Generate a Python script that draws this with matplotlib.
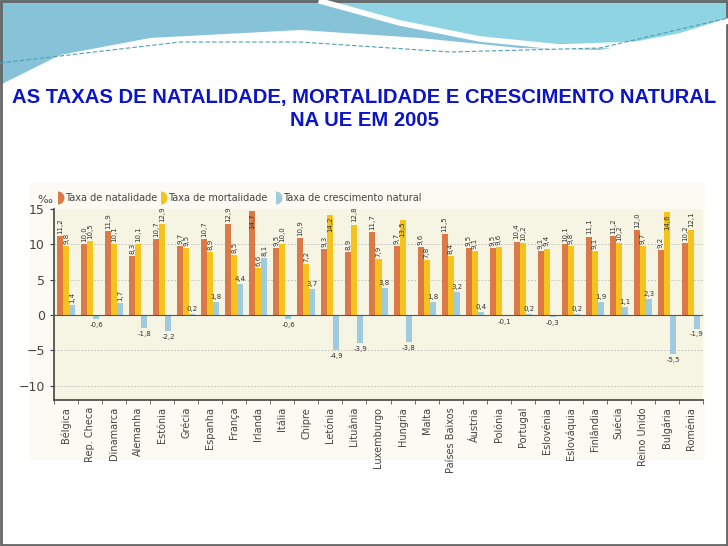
#!/usr/bin/env python
"""Birth, death and natural growth rates in the EU, 2005."""

import matplotlib.pyplot as plt
from matplotlib.patches import Wedge, Rectangle
import numpy as np

countries = ["Bélgica", "Rep. Checa", "Dinamarca", "Alemanha", "Estónia", "Grécia",
             "Espanha", "França", "Irlanda", "Itália", "Chipre", "Letónia", "Lituânia",
             "Luxemburgo", "Hungria", "Malta", "Países Baixos", "Áustria", "Polónia",
             "Portugal", "Eslovénia", "Eslováquia", "Finlândia", "Suécia", "Reino Unido",
             "Bulgária", "Roménia"]
natalidade = [11.2, 10.0, 11.9, 8.3, 10.7, 9.7, 10.7, 12.9, 14.7, 9.5, 10.9, 9.3, 8.9,
              11.7, 9.7, 9.6, 11.5, 9.5, 9.5, 10.4, 9.1, 10.1, 11.1, 11.2, 12.0, 9.2, 10.2]
mortalidade = [9.8, 10.5, 10.1, 10.1, 12.9, 9.5, 8.9, 8.5, 6.6, 10.0, 7.2, 14.2, 12.8,
               7.9, 13.5, 7.8, 8.4, 9.1, 9.6, 10.2, 9.4, 9.8, 9.1, 10.2, 9.7, 14.6, 12.1]
crescimento = [1.4, -0.6, 1.7, -1.8, -2.2, 0.2, 1.8, 4.4, 8.1, -0.6, 3.7, -4.9, -3.9,
               3.8, -3.8, 1.8, 3.2, 0.4, -0.1, 0.2, -0.3, 0.2, 1.9, 1.1, 2.3, -5.5, -1.9]

c_nat = "#DC7A45"
c_mort = "#F6C21C"
c_cresc = "#9FCBDF"
cond = "DejaVu Sans Condensed"


def fmt(v):
    return "{:.1f}".format(v).replace(".", ",")


fig = plt.figure(figsize=(7.28, 5.46), dpi=100)
fig.patch.set_facecolor("white")

# slide decoration, drawn in pixel coordinates
deco = fig.add_axes([0, 0, 1, 1], zorder=-5)
deco.set_xlim(0, 728)
deco.set_ylim(546, 0)
deco.axis("off")
xs = np.linspace(0, 728, 300)
low = np.interp(xs, [0, 60, 150, 300, 420, 520, 600, 680, 728],
                [85, 55, 38, 30, 38, 48, 50, 35, 20])
deco.fill_between(xs, 0, low, color="#86C3D8", lw=0)
strip = np.interp(xs, [320, 400, 480, 560, 728], [0, 22, 38, 46, 40])
m = xs > 320
deco.fill_between(xs[m], 0, np.minimum(strip[m], low[m]), color="#8FD4E2", lw=0)
deco.plot(xs[m], np.minimum(strip[m], low[m]) + 1, color="white", lw=4)
dash = np.interp(xs, [0, 180, 300, 450, 600, 728], [63, 42, 42, 52, 48, 18])
deco.plot(xs, dash, color="#4F9DB8", lw=0.8, ls=(0, (4, 2)))
deco.add_patch(Rectangle((1, 1), 726, 544, fill=False, ec="#666666", lw=2))

fig.text(0.5, 1 - 97 / 546, "AS TAXAS DE NATALIDADE, MORTALIDADE E CRESCIMENTO NATURAL",
         ha="center", va="center", color="#0B14C6", fontsize=14.6, fontweight="bold",
         family="Liberation Sans")
fig.text(0.5, 1 - 120 / 546, "NA UE EM 2005", ha="center", va="center", color="#0B14C6",
         fontsize=14.6, fontweight="bold", family="Liberation Sans")

# scanned chart area background
deco.add_patch(Rectangle((30, 183), 675, 277, color="#FBFAF3", lw=0))

ax = fig.add_axes([54 / 728, 1 - 400 / 546, 649 / 728, 191 / 546])
ax.set_facecolor("#F6F5E4")
x = np.arange(len(countries))
w = 0.25
ax.bar(x - w, natalidade, w, color=c_nat, zorder=3)
ax.bar(x, mortalidade, w, color=c_mort, zorder=3)
ax.bar(x + w, crescimento, w, color=c_cresc, zorder=3)

lab = dict(fontsize=5, color="#333333", family=cond, zorder=5)


def top_label(xpos, v):
    # tall bars carry their label inside the top of the bar
    if v >= 13.5:
        ax.text(xpos, v - 0.3, fmt(v), rotation=90, ha="center", va="top", **lab)
    else:
        ax.text(xpos, v + 0.3, fmt(v), rotation=90, ha="center", va="bottom", **lab)


for i in x:
    top_label(i - w, natalidade[i])
    top_label(i, mortalidade[i])
    v = crescimento[i]
    if v in (1.4, 1.7, 8.1):
        ax.text(i + w, v + 0.3, fmt(v), rotation=90, ha="center", va="bottom", **lab)
    elif v > 0:
        ax.text(i + w, v + 0.3, fmt(v), ha="center", va="bottom", **lab)
    else:
        ax.text(i + w, v - 0.4, fmt(v), ha="center", va="top", **lab)

ax.set_xlim(-0.5, len(countries) - 0.5)
ax.set_ylim(-12, 15)
ax.set_yticks([-10, -5, 0, 5, 10, 15])
ax.set_yticklabels(["\u221210", "\u22125", "0", "5", "10", "15"])
for y in (-10, -5, 5, 10):
    ax.axhline(y, color="#BBBBBB", ls=(0, (2, 2)), lw=0.6, zorder=1)
ax.axhline(0, color="#555555", lw=0.8, zorder=4)
ax.set_xticks(x)
ax.set_xticklabels(countries, rotation=90, fontsize=7, color="#444444", family=cond)
ax.set_xticks(np.arange(-0.5, len(countries), 1), minor=True)
ax.tick_params(axis="x", which="major", length=0, pad=5)
ax.tick_params(axis="x", which="minor", length=3, color="#555555")
ax.tick_params(axis="y", labelsize=9, colors="#444444", length=3)
for s in ("top", "right"):
    ax.spines[s].set_visible(False)
for s in ("left", "bottom"):
    ax.spines[s].set_color("#444444")
    ax.spines[s].set_linewidth(1.2)

# legend row
deco.text(45, 200, "‰", fontsize=8, color="#444444", ha="center", va="center")
items = [(58, c_nat, "Taxa de natalidade"), (161, c_mort, "Taxa de mortalidade"),
         (276, c_cresc, "Taxa de crescimento natural")]
for px, c, t in items:
    deco.add_patch(Wedge((px, 198), 6.5, -90, 90, color=c, lw=0))
    deco.text(px + 7, 198, t, fontsize=7, color="#444444", va="center", family=cond)

fig.savefig("out.png", dpi=100)
